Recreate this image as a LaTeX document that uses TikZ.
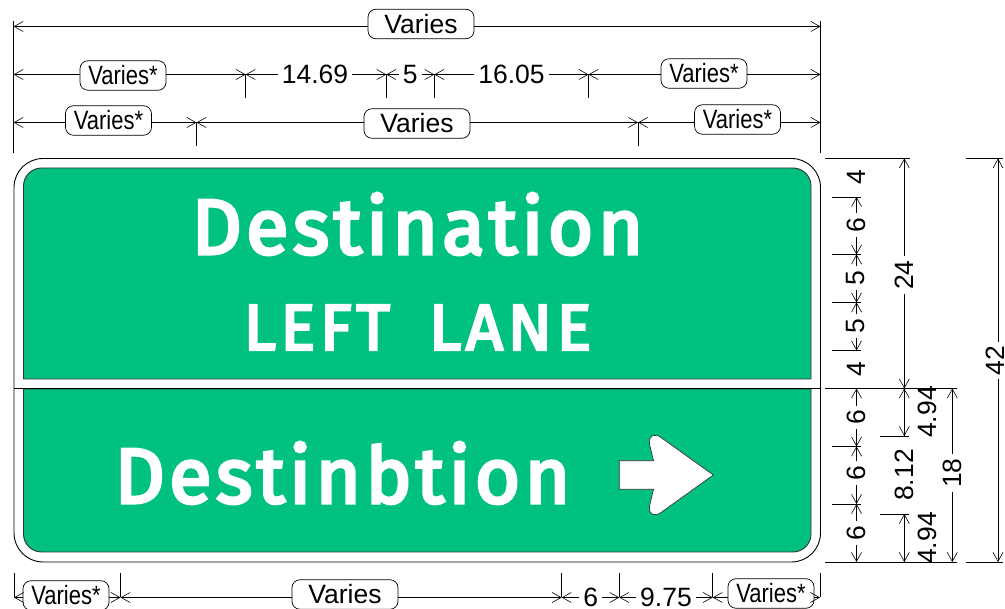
\documentclass[tikz,border=0pt]{standalone}
\usepackage{fontspec}
\setmainfont{Liberation Sans}
\newfontfamily\signa[LetterSpace=5.5,FakeBold=4]{Fira Sans}
\newfontfamily\signb[LetterSpace=7,FakeBold=4]{Fira Sans}
\usetikzlibrary{arrows.meta}
\definecolor{signgreen}{RGB}{0,193,129}
\tikzset{
  x=1pt,y=-1pt,
  dimline/.style={draw=black,line width=.75pt},
  tip/.style={dimline,-{Straight Barb[length=9pt,width=10pt,line width=.6pt]}},
  extline/.style={draw=black,line width=.75pt},
  num/.style={font=\fontsize{26.5}{30}\selectfont,inner sep=4pt},
  vnum/.style={num,rotate=90},
  varbox/.style={draw=black,line width=.7pt,fill=white,rounded corners=8pt,inner sep=0pt,minimum width=106pt,minimum height=29.5pt,font=\fontsize{26.5}{30}\selectfont},
  varstar/.style={varbox,minimum width=86pt},
  panel/.style={fill=signgreen,draw=black!80,line width=.9pt},
}
\newcommand{\vs}{\scalebox{.83}[1]{Varies*}}
\begin{document}
\begin{tikzpicture}
\useasboundingbox (0,0) rectangle (1005,609);
% sign
\draw[line width=.9pt,fill=white,rounded corners=29pt] (14,158.5) rectangle (820.5,562);
\draw[panel] (23.5,379) [rounded corners=18pt] -- (23.5,168) -- (811,168) [sharp corners] -- (811,379) -- cycle;
\draw[panel] (23.5,389) -- (811,389) [rounded corners=18pt] -- (811,552) -- (23.5,552) [sharp corners] -- cycle;
\coordinate (divl) at (14,388.5); \coordinate (divr) at (820.5,388.5);
\draw[line width=.9pt] (divl) -- (divr);
\node[text=white,inner sep=0pt] (dest1) at (417.5,224) {\signa\fontsize{78}{90}\selectfont Destination};
\node[text=white,inner sep=0pt] (lane) at (417.5,327.5) {\signb\fontsize{65}{70}\selectfont LEFT\hspace{.6em}LANE};
\node[text=white,inner sep=0pt] (dest2) at (342.5,473) {\signa\fontsize{78}{90}\selectfont Destinbtion};
\draw[fill=white,draw=black!80,line width=.7pt] (619.3,460.7) -- (653.5,460.7) -- (649.5,444) .. controls (648,435) and (655,433) .. (661,437.5) -- (713.3,475) -- (661,512.5) .. controls (655,517) and (648,515) .. (649.5,506) -- (653.5,489.3) -- (619.3,489.3) -- cycle;

% extension lines, top
\coordinate (etl) at (13.5,21); \coordinate (ebl) at (13.5,153);
\coordinate (etr) at (820.5,21); \coordinate (ebr) at (820.5,153);
\draw[extline] (etl) -- (ebl);
\draw[extline] (etr) -- (ebr);
% row 1
\coordinate (r1l) at (13.5,26.5); \coordinate (r1r) at (820.5,26.5);
\node[varbox] (v1) at (421,24) {Varies};
\draw[tip] (v1.west |- r1l) -- (r1l);
\draw[tip] (v1.east |- r1r) -- (r1r);
% row 2
\coordinate (r2l) at (13.5,74.5); \coordinate (r2a) at (245.7,74.5); \coordinate (r2b) at (386.3,74.5);
\coordinate (r2c) at (434.3,74.5); \coordinate (r2d) at (588.5,74.5); \coordinate (r2r) at (820.5,74.5);
\coordinate (r2ae) at (245.7,98.5); \coordinate (r2be) at (386.3,98.5); \coordinate (r2ce) at (434.3,98.5); \coordinate (r2de) at (588.5,98.5);
\draw[extline] (r2a) -- (r2ae);
\draw[extline] (r2b) -- (r2be);
\draw[extline] (r2c) -- (r2ce);
\draw[extline] (r2d) -- (r2de);
\node[varstar] (v2) at (123,75.5) {\vs};
\node[num] (n1469) at (315,74.5) {14.69};
\node[num] (n5) at (410.3,74.5) {5};
\node[num] (n1605) at (511.5,74.5) {16.05};
\node[varstar] (v3) at (704,73.5) {\vs};
\draw[tip] (v2.west |- r2l) -- (r2l);
\draw[tip] (v2.east |- r2a) -- (r2a);
\draw[tip] (n1469.west |- r2a) -- (r2a);
\draw[tip] (n1469.east |- r2b) -- (r2b);
\draw[tip] (n5.west |- r2b) -- (r2b);
\draw[tip] (n5.east |- r2c) -- (r2c);
\draw[tip] (n1605.west |- r2c) -- (r2c);
\draw[tip] (n1605.east |- r2d) -- (r2d);
\draw[tip] (v3.west |- r2d) -- (r2d);
\draw[tip] (v3.east |- r2r) -- (r2r);
% row 3
\coordinate (r3l) at (13.5,122.5); \coordinate (r3a) at (196.5,122.5); \coordinate (r3b) at (638,122.5); \coordinate (r3r) at (820.5,122.5);
\coordinate (r3ae) at (196.5,146.5); \coordinate (r3be) at (638,146.5);
\draw[extline] (r3a) -- (r3ae);
\draw[extline] (r3b) -- (r3be);
\node[varstar] (v4) at (108.5,120.5) {\vs};
\node[varbox] (v5) at (417,123.5) {Varies};
\node[varstar] (v6) at (737.5,119.5) {\vs};
\draw[tip] (v4.west |- r3l) -- (r3l);
\draw[tip] (v4.east |- r3a) -- (r3a);
\draw[tip] (v5.west |- r3a) -- (r3a);
\draw[tip] (v5.east |- r3b) -- (r3b);
\draw[tip] (v6.west |- r3b) -- (r3b);
\draw[tip] (v6.east |- r3r) -- (r3r);

% right side horizontal extension lines
\coordinate (h0a) at (825,158.5); \coordinate (h0b) at (910,158.5);
\coordinate (h0c) at (966,158.5); \coordinate (h0d) at (1003,158.5);
\coordinate (h5a) at (825,388.5); \coordinate (h5b) at (957,388.5);
\coordinate (h9a) at (825,562); \coordinate (h9b) at (957,562);
\coordinate (h9c) at (966,562); \coordinate (h9d) at (1003,562);
\draw[extline] (h0a) -- (h0b);
\draw[extline] (h0c) -- (h0d);
\draw[extline,line width=.9pt] (h5a) -- (h5b);
\draw[extline,line width=.9pt] (h9a) -- (h9b);
\draw[extline] (h9c) -- (h9d);
\coordinate (t1a) at (832,197); \coordinate (t1b) at (861,197);
\coordinate (t2a) at (832,254.5); \coordinate (t2b) at (861,254.5);
\coordinate (t3a) at (832,302.5); \coordinate (t3b) at (861,302.5);
\coordinate (t4a) at (832,350.5); \coordinate (t4b) at (861,350.5);
\coordinate (t6a) at (832,446.5); \coordinate (t6b) at (861,446.5);
\coordinate (t7a) at (832,504); \coordinate (t7b) at (861,504);
\coordinate (t8a) at (880,436); \coordinate (t8b) at (909,436);
\coordinate (t9a) at (880,514); \coordinate (t9b) at (909,514);
\draw[extline] (t1a) -- (t1b);
\draw[extline] (t2a) -- (t2b);
\draw[extline] (t3a) -- (t3b);
\draw[extline] (t4a) -- (t4b);
\draw[extline] (t6a) -- (t6b);
\draw[extline] (t7a) -- (t7b);
\draw[extline] (t8a) -- (t8b);
\draw[extline] (t9a) -- (t9b);
% column 1
\coordinate (c10) at (856.5,197); \coordinate (c11) at (856.5,254.5); \coordinate (c12) at (856.5,302.5); \coordinate (c13) at (856.5,350.5);
\coordinate (c15) at (856.5,388.5); \coordinate (c16) at (856.5,446.5); \coordinate (c17) at (856.5,504); \coordinate (c18) at (856.5,562);
\node[vnum] (l4a) at (856,177.5) {4};
\node[vnum] (l6a) at (856,225) {6};
\node[vnum] (l5a) at (856,278) {5};
\node[vnum] (l5b) at (856,326) {5};
\node[vnum] (l4b) at (856,369.5) {4};
\node[vnum] (l6b) at (856,417.5) {6};
\node[vnum] (l6c) at (856,473) {6};
\node[vnum] (l6d) at (856,533) {6};
\draw[tip] (c10 |- l6a.east) -- (c10);
\draw[tip] (c11 |- l6a.west) -- (c11);
\draw[tip] (c11 |- l5a.east) -- (c11);
\draw[tip] (c12 |- l5a.west) -- (c12);
\draw[tip] (c12 |- l5b.east) -- (c12);
\draw[tip] (c13 |- l5b.west) -- (c13);
\draw[tip] (c15 |- l6b.east) -- (c15);
\draw[tip] (c16 |- l6b.west) -- (c16);
\draw[tip] (c16 |- l6c.east) -- (c16);
\draw[tip] (c17 |- l6c.west) -- (c17);
\draw[tip] (c17 |- l6d.east) -- (c17);
\draw[tip] (c18 |- l6d.west) -- (c18);
% column 2
\coordinate (c20) at (904.3,158.5); \coordinate (c21) at (904.3,388.5); \coordinate (c22) at (904.3,436); \coordinate (c23) at (904.3,514); \coordinate (c24) at (904.3,562);
\node[vnum] (l24) at (904,275) {24};
\node[vnum] (l812) at (904,475) {8.12};
\node[vnum] (l494a) at (927,412) {4.94};
\node[vnum] (l494b) at (927,538) {4.94};
\draw[tip] (c20 |- l24.east) -- (c20);
\draw[tip] (c21 |- l24.west) -- (c21);
\draw[tip] (c22) -- (c21);
\draw[tip] (c21) -- (c22);
\draw[tip] (c24) -- (c23);
\draw[tip] (c23) -- (c24);
% column 4
\coordinate (c40) at (952.3,388.5); \coordinate (c41) at (952.3,562);
\node[vnum] (l18) at (952.5,473) {18};
\draw[tip] (c40 |- l18.east) -- (c40);
\draw[tip] (c41 |- l18.west) -- (c41);
% column 3
\coordinate (c30) at (998,158.5); \coordinate (c31) at (998,562);
\node[vnum] (l42) at (995.5,360.5) {42};
\draw[tip] (c30 |- l42.east) -- (c30);
\draw[tip] (c31 |- l42.west) -- (c31);

% bottom dimensions
\coordinate (b0) at (14,597.5); \coordinate (b1) at (120.5,597.5); \coordinate (b2) at (561.7,597.5);
\coordinate (b3) at (619.3,597.5); \coordinate (b4) at (712.7,597.5); \coordinate (b5) at (820,597.5);
\coordinate (e0) at (14,573); \coordinate (e1) at (120.5,573); \coordinate (e2) at (561.7,573);
\coordinate (e3) at (619.3,573); \coordinate (e4) at (712.7,573); \coordinate (e5) at (820,573);
\draw[extline] (e0) -- (b0);
\draw[extline] (e1) -- (b1);
\draw[extline] (e2) -- (b2);
\draw[extline] (e3) -- (b3);
\draw[extline] (e4) -- (b4);
\draw[extline] (e5) -- (b5);
\node[varstar] (v7) at (66,595.5) {\vs};
\node[varbox] (v8) at (345,594.5) {Varies};
\node[num] (n6) at (590.7,597.5) {6};
\node[num] (n975) at (666,597.5) {9.75};
\node[varstar] (v9) at (771,593.5) {\vs};
\draw[tip] (v7.west |- b0) -- (b0);
\draw[tip] (v7.east |- b1) -- (b1);
\draw[tip] (v8.west |- b1) -- (b1);
\draw[tip] (v8.east |- b2) -- (b2);
\draw[tip] (n6.west |- b2) -- (b2);
\draw[tip] (n6.east |- b3) -- (b3);
\draw[tip] (n975.west |- b3) -- (b3);
\draw[tip] (n975.east |- b4) -- (b4);
\draw[tip] (v9.west |- b4) -- (b4);
\draw[tip] (v9.east |- b5) -- (b5);
\end{tikzpicture}
\end{document}
